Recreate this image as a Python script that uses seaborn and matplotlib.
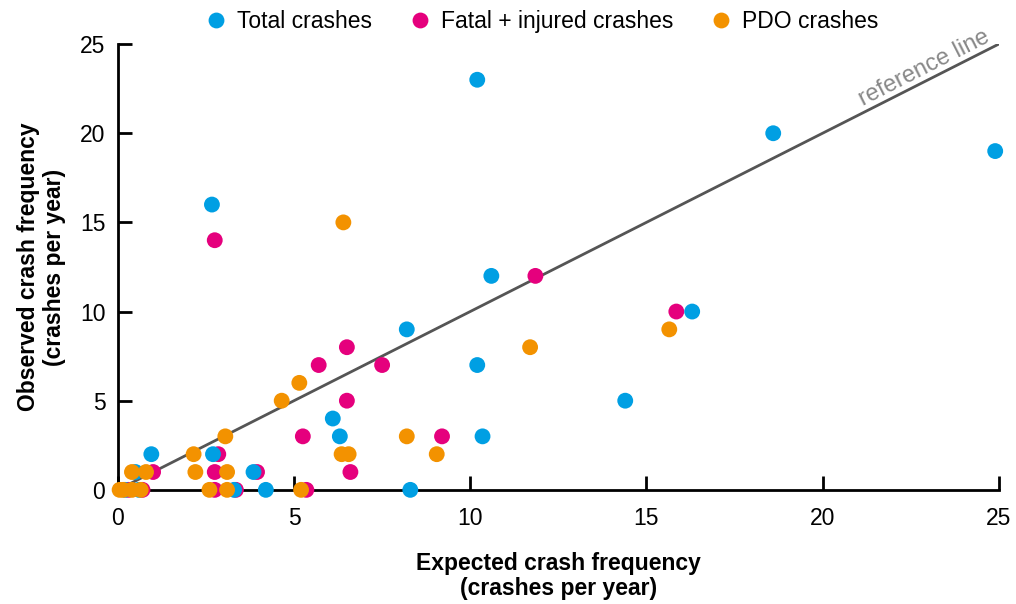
import matplotlib
matplotlib.use("Agg")
import matplotlib.pyplot as plt
import seaborn as sns
import pandas as pd

# expected vs observed crash frequency (crashes per year)
total_x = [0.2, 0.5, 0.95, 2.7, 3.85, 3.3, 4.2, 8.3, 2.67, 10.2, 18.6, 24.9, 10.6,
           16.3, 8.2, 10.2, 14.4, 6.1, 6.3, 10.35, 0.6]
total_y = [0, 1, 2, 2, 1, 0, 0, 0, 16, 23, 20, 19, 12, 10, 9, 7, 5, 4, 3, 3, 0]

fatal_x = [2.75, 11.85, 15.85, 6.5, 5.7, 7.5, 6.5, 5.25, 9.2, 6.6, 2.85, 3.95,
           1.0, 2.75, 3.35, 5.35, 2.75, 0.3, 0.7]
fatal_y = [14, 12, 10, 8, 7, 7, 5, 3, 3, 1, 2, 1, 1, 1, 0, 0, 0, 0, 0]

pdo_x = [6.4, 11.7, 15.65, 5.15, 4.65, 3.05, 8.2, 9.05, 6.35, 6.55, 2.15, 2.2,
         3.1, 0.4, 0.8, 0.05, 0.4, 0.65, 2.6, 3.1, 5.2, 0.15]
pdo_y = [15, 8, 9, 6, 5, 3, 3, 2, 2, 2, 2, 1, 1, 1, 1, 0, 0, 0, 0, 0, 0, 0]

series = ["Total crashes", "Fatal + injured crashes", "PDO crashes"]
colors = ["#009FE3", "#E5007D", "#F39200"]
ticks = [0, 5, 10, 15, 20, 25]

# draw order: fatal, total, PDO (PDO on top)
frames = [
    pd.DataFrame({"expected": fatal_x, "observed": fatal_y, "type": series[1]}),
    pd.DataFrame({"expected": total_x, "observed": total_y, "type": series[0]}),
    pd.DataFrame({"expected": pdo_x, "observed": pdo_y, "type": series[2]}),
]
data = pd.concat(frames, ignore_index=True)

sns.set_style("white")
plt.rcParams["font.family"] = ["Liberation Sans", "DejaVu Sans"]
plt.rcParams["text.color"] = "black"
plt.rcParams["axes.labelcolor"] = "black"
plt.rcParams["xtick.color"] = "black"
plt.rcParams["ytick.color"] = "black"

fig = plt.figure(figsize=(10.16, 6.04), dpi=100)
ax = fig.add_axes([0.116, 0.189, 0.867, 0.738])

ax.plot([0.3, 25], [0.3, 25], color="#555555", lw=2, zorder=1)
ax.text(22.9, 23.65, "reference line", color="#888888", fontsize=17,
        rotation=26.9, ha="center", va="center", rotation_mode="anchor")

sns.scatterplot(data=data, x="expected", y="observed", hue="type",
                hue_order=series, palette=colors, s=130, linewidth=0,
                ax=ax, clip_on=False, zorder=3, legend=True)

ax.set_xlim(0, 25)
ax.set_ylim(0, 25)
ax.set_xticks(ticks)
ax.set_yticks(ticks)
ax.tick_params(axis="both", direction="in", length=10, width=2, color="black",
               labelsize=16.5, bottom=True, left=True)
ax.tick_params(axis="x", pad=12)
ax.tick_params(axis="y", pad=9)
for side in ["top", "right"]:
    ax.spines[side].set_visible(False)
for side in ["left", "bottom"]:
    ax.spines[side].set_linewidth(2)
    ax.spines[side].set_color("black")

ax.set_xlabel("Expected crash frequency\n(crashes per year)", fontsize=16.5,
              fontweight="bold", labelpad=16, linespacing=1.15)
ax.set_ylabel("Observed crash frequency\n(crashes per year)", fontsize=16.5,
              fontweight="bold", labelpad=10, linespacing=1.15)

handles, labels = ax.get_legend_handles_labels()
ax.get_legend().remove()
fig.legend(handles, labels, loc="upper center", bbox_to_anchor=(0.532, 1.018),
           ncol=3, frameon=False, fontsize=16.5, handletextpad=0.3,
           columnspacing=1.5, markerscale=1.0, handlelength=1.2)

fig.savefig("out.png", dpi=100)
